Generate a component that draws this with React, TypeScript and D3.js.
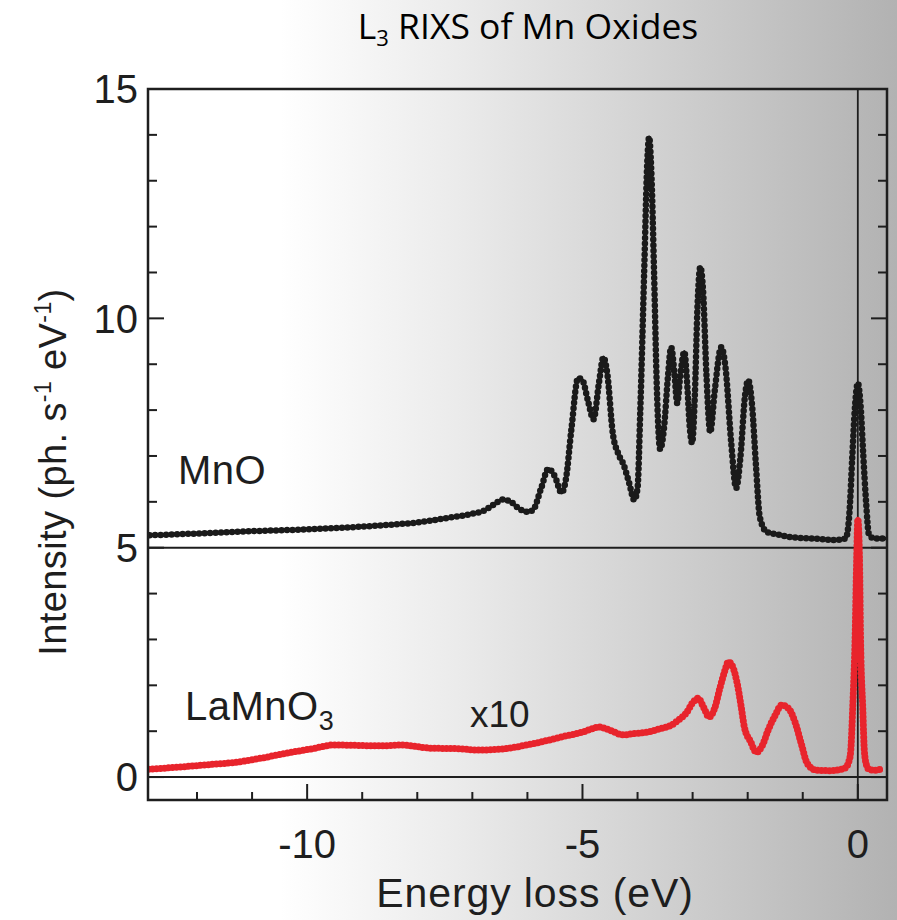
import React from 'react';
import * as d3 from 'd3';

// MnO spectrum (offset by +5)
const mnoX = [-12.86, -12, -11, -10, -9, -8.5, -8, -7.5, -7.0, -6.8, -6.6, -6.45, -6.3, -6.15, -6.0, -5.9, -5.75, -5.62, -5.5, -5.38, -5.3, -5.2, -5.08, -5.0, -4.9, -4.8, -4.7, -4.62, -4.55, -4.45, -4.35, -4.25, -4.15, -4.06, -4.0, -3.95, -3.88, -3.82, -3.79, -3.75, -3.7, -3.65, -3.59, -3.52, -3.45, -3.39, -3.33, -3.28, -3.22, -3.15, -3.1, -3.05, -3.01, -2.96, -2.91, -2.86, -2.81, -2.75, -2.68, -2.6, -2.48, -2.4, -2.3, -2.21, -2.13, -2.05, -1.99, -1.92, -1.85, -1.78, -1.65, -1.5, -1.2, -0.8, -0.4, -0.22, -0.15, -0.1, -0.05, 0.0, 0.05, 0.1, 0.15, 0.2, 0.3, 0.52];
const mnoY = [5.27, 5.31, 5.36, 5.40, 5.46, 5.50, 5.55, 5.64, 5.74, 5.80, 5.95, 6.05, 6.0, 5.85, 5.78, 5.82, 6.3, 6.72, 6.55, 6.2, 6.5, 7.6, 8.7, 8.65, 8.2, 7.8, 8.6, 9.15, 8.8, 7.5, 7.05, 6.8, 6.4, 6.04, 6.3, 8.0, 11.0, 13.5, 13.95, 13.2, 11.0, 8.5, 7.15, 7.6, 8.7, 9.37, 8.8, 8.15, 8.8, 9.27, 8.6, 7.6, 7.28, 8.3, 10.3, 11.12, 10.6, 8.8, 7.52, 8.4, 9.37, 8.9, 7.3, 6.30, 7.0, 8.3, 8.65, 8.1, 6.8, 5.67, 5.34, 5.3, 5.23, 5.2, 5.17, 5.2, 5.8, 7.0, 8.1, 8.59, 8.1, 7.0, 6.0, 5.3, 5.2, 5.2];

// LaMnO3 spectrum (x10)
const lmoX = [-12.88, -12.3, -11.8, -11.25, -10.8, -10.38, -9.9, -9.51, -9.1, -8.64, -8.3, -7.75, -7.3, -6.88, -6.4, -6.01, -5.7, -5.40, -5.0, -4.69, -4.5, -4.26, -4.05, -3.82, -3.6, -3.39, -3.25, -3.12, -2.98, -2.90, -2.80, -2.70, -2.60, -2.50, -2.42, -2.35, -2.27, -2.19, -2.12, -2.06, -1.95, -1.84, -1.73, -1.63, -1.50, -1.38, -1.26, -1.14, -1.02, -0.92, -0.76, -0.5, -0.24, -0.16, -0.13, -0.09, -0.05, -0.02, 0.0, 0.03, 0.05, 0.09, 0.12, 0.16, 0.2, 0.3, 0.45];
const lmoY = [0.17, 0.22, 0.27, 0.33, 0.42, 0.52, 0.62, 0.70, 0.69, 0.68, 0.70, 0.63, 0.62, 0.59, 0.62, 0.70, 0.78, 0.87, 0.98, 1.09, 1.02, 0.92, 0.95, 0.98, 1.05, 1.13, 1.25, 1.39, 1.65, 1.72, 1.52, 1.31, 1.50, 1.96, 2.30, 2.51, 2.40, 2.04, 1.55, 1.09, 0.78, 0.54, 0.70, 1.02, 1.35, 1.57, 1.50, 1.20, 0.70, 0.30, 0.15, 0.14, 0.19, 0.35, 0.55, 1.6, 3.0, 4.8, 5.62, 4.8, 3.0, 1.5, 0.55, 0.25, 0.17, 0.15, 0.18];

const xMajorTicks = [-10, -5, 0];
const xMinorTicks = [-12, -11, -10, -9, -8, -7, -6, -5, -4, -3, -2, -1, 0];
const yMajorTicks = [0, 5, 10, 15];
const yMinorTicks = [0, 1, 2, 3, 4, 5, 6, 7, 8, 9, 10, 11, 12, 13, 14, 15];
const refLines = [0, 5];

const W = 897;
const H = 920;
const L = 148, R = 887, T = 89, B = 800;

export default function App() {
  const x = d3.scaleLinear().domain([-12.89, 0.53]).range([L, R]);
  const y = d3.scaleLinear().domain([-0.5, 15]).range([B, T]);

  const mno = mnoX.map((v, i) => [v, mnoY[i]] as [number, number]);
  const lmo = lmoX.map((v, i) => [v, lmoY[i]] as [number, number]);
  const line = d3
    .line<[number, number]>()
    .x((d) => x(d[0]))
    .y((d) => y(d[1]))
    .curve(d3.curveMonotoneX);

  const axisFont = "'Liberation Sans', Arial, Helvetica, sans-serif";
  const ink = '#1e1e1e';

  return (
    <svg
      width={W}
      height={H}
      style={{ position: 'absolute', left: 0, top: 0, display: 'block' }}
    >
      <defs>
        <linearGradient id="bg" gradientUnits="userSpaceOnUse" x1={280} y1={0} x2={897} y2={0}>
          <stop offset="0" stopColor="#ffffff" />
          <stop offset="0.3" stopColor="#eaeaea" />
          <stop offset="1" stopColor="#b2b2b2" />
        </linearGradient>
        <clipPath id="plot">
          <rect x={L} y={T} width={R - L} height={B - T} />
        </clipPath>
      </defs>
      <rect x={0} y={0} width={W} height={H} fill="url(#bg)" />

      {/* title */}
      <text
        x={528}
        y={39}
        textAnchor="middle"
        fontFamily="'Open Sans', 'Noto Sans', sans-serif"
        fontSize={35.5}
        fill="#000"
      >
        L<tspan fontSize={22} dy={7}>3</tspan>
        <tspan dy={-7}> RIXS of Mn Oxides</tspan>
      </text>

      {/* reference horizontal lines */}
      {refLines.map((v) => (
        <line key={'h' + v} x1={L} x2={R} y1={y(v)} y2={y(v)} stroke={ink} strokeWidth={2} />
      ))}
      {/* vertical line at zero loss */}
      <line x1={x(0)} x2={x(0)} y1={T} y2={B} stroke={ink} strokeWidth={1.8} />

      <g clipPath="url(#plot)">
        {/* LaMnO3 red */}
        <path d={line(lmo) || ''} fill="none" stroke="#e8242c" strokeWidth={5} strokeLinejoin="round" />
        <path
          d={line(lmo) || ''}
          fill="none"
          stroke="#e8242c"
          strokeWidth={7}
          strokeDasharray="0 4"
          strokeLinecap="round"
        />
        {/* MnO black */}
        <path d={line(mno) || ''} fill="none" stroke="#1a1a1a" strokeWidth={3.5} strokeLinejoin="round" />
        <path
          d={line(mno) || ''}
          fill="none"
          stroke="#1a1a1a"
          strokeWidth={6.5}
          strokeDasharray="0 5.5"
          strokeLinecap="round"
        />
      </g>

      {/* frame */}
      <rect x={L} y={T} width={R - L} height={B - T} fill="none" stroke={ink} strokeWidth={2.5} />

      {/* y ticks left and right */}
      {yMinorTicks.map((v) => {
        const major = yMajorTicks.includes(v);
        const len = major ? 16 : 9;
        return (
          <g key={'yt' + v}>
            <line x1={L} x2={L + len} y1={y(v)} y2={y(v)} stroke={ink} strokeWidth={2} />
            <line x1={R} x2={R - len} y1={y(v)} y2={y(v)} stroke={ink} strokeWidth={2} />
          </g>
        );
      })}
      {/* x ticks bottom */}
      {xMinorTicks.map((v) => {
        const major = xMajorTicks.includes(v);
        const len = major ? 16 : 8;
        return <line key={'xt' + v} x1={x(v)} x2={x(v)} y1={B} y2={B - len} stroke={ink} strokeWidth={2} />;
      })}

      {/* y tick labels */}
      {yMajorTicks.map((v) => (
        <text
          key={'yl' + v}
          x={L - 10}
          y={y(v)}
          dy="0.36em"
          textAnchor="end"
          fontFamily={axisFont}
          fontSize={40}
          fill="#1e1e1e"
        >
          {v}
        </text>
      ))}
      {/* x tick labels */}
      {xMajorTicks.map((v) => (
        <text
          key={'xl' + v}
          x={x(v)}
          y={858}
          textAnchor="middle"
          fontFamily={axisFont}
          fontSize={40}
          fill="#1e1e1e"
        >
          {v}
        </text>
      ))}

      {/* axis titles */}
      <text
        x={535}
        y={907}
        textAnchor="middle"
        fontFamily={axisFont}
        fontSize={41}
        letterSpacing={0.9}
        fill="#1e1e1e"
      >
        Energy loss (eV)
      </text>
      <text
        transform="translate(66,472) rotate(-90)"
        textAnchor="middle"
        fontFamily={axisFont}
        fontSize={38}
        letterSpacing={0.4}
        fill="#1e1e1e"
      >
        Intensity (ph. s<tspan fontSize={23} dy={-15}>-1</tspan>
        <tspan dy={15}> eV</tspan>
        <tspan fontSize={23} dy={-15}>-1</tspan>
        <tspan dy={15}>)</tspan>
      </text>

      {/* series labels */}
      <text x={178} y={484} fontFamily={axisFont} fontSize={40} letterSpacing={0.5} fill="#1e1e1e">
        MnO
      </text>
      <text x={185} y={720} fontFamily={axisFont} fontSize={40} letterSpacing={0.5} fill="#1e1e1e">
        LaMnO<tspan fontSize={27} dy={10}>3</tspan>
      </text>
      <text x={470} y={727} fontFamily={axisFont} fontSize={37} fill="#1e1e1e">
        x10
      </text>
    </svg>
  );
}
